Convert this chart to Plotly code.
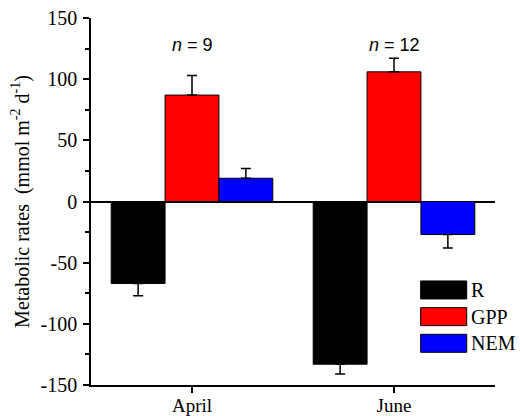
import plotly.graph_objects as go

months = ["April", "June"]
series = ["R", "GPP", "NEM"]
colors = ["#000000", "#ff0000", "#0000ff"]
values = {
    "R": [-67, -133],
    "GPP": [87, 106],
    "NEM": [19, -27],
}
errors = {
    "R": [10, 8],
    "GPP": [16, 11],
    "NEM": [8, 11],
}
y_tickvals = [-150, -100, -50, 0, 50, 100, 150]
y_ticktext = ["-150", "-100", "-50", "0", "50", "100", "150"]
n_labels = ["<i>n</i> = 9", "<i>n</i> = 12"]
n_label_y = 128

fig = go.Figure()
for s, c in zip(series, colors):
    v = values[s]
    e = errors[s]
    up = [ei if vi >= 0 else 0 for vi, ei in zip(v, e)]
    dn = [ei if vi < 0 else 0 for vi, ei in zip(v, e)]
    fig.add_trace(go.Bar(
        x=months, y=v, name=s,
        marker=dict(color=c, line=dict(color="black", width=1)),
        error_y=dict(type="data", symmetric=False, array=up, arrayminus=dn,
                     color="black", thickness=1.5, width=5),
    ))

for m, t in zip(months, n_labels):
    fig.add_annotation(x=m, y=n_label_y, text=t, showarrow=False,
                       font=dict(family="Liberation Sans, Arial", size=18, color="black"),
                       xanchor="center", yanchor="middle")

# custom legend with large swatches
for i, (s, c) in enumerate(zip(series, colors)):
    yc = 0.259 - i * 0.0727
    fig.add_shape(type="rect", xref="paper", yref="paper",
                  x0=0.816, x1=0.930, y0=yc - 0.0245, y1=yc + 0.0245,
                  fillcolor=c, line=dict(color="black", width=1))
    fig.add_annotation(xref="paper", yref="paper", x=0.936, y=yc, text=s,
                       showarrow=False, xanchor="left", yanchor="middle",
                       font=dict(family="Liberation Serif, Times New Roman", size=20, color="black"))

serif = dict(family="Liberation Serif, Times New Roman", size=20, color="black")
fig.update_layout(
    width=520, height=416,
    margin=dict(l=91, r=25, t=18, b=31),
    paper_bgcolor="white", plot_bgcolor="white",
    barmode="group", bargap=0.2, bargroupgap=0,
    showlegend=False,
    font=serif,
    xaxis=dict(range=[-0.5, 1.5], showline=True, linecolor="black", linewidth=1.5,
               ticks="outside", ticklen=6, tickwidth=1.5, tickcolor="black",
               showgrid=False, zeroline=False, automargin=False,
               tickfont=dict(family=serif["family"], size=19, color="black"),
               ticklabelstandoff=-4),
    yaxis=dict(range=[-150, 150], tickvals=y_tickvals, ticktext=y_ticktext,
               showline=True, linecolor="black", linewidth=1.5,
               ticks="outside", ticklen=6, tickwidth=1.5, tickcolor="black",
               minor=dict(dtick=25, ticks="outside", ticklen=4, tickwidth=1.5, tickcolor="black"),
               showgrid=False, zeroline=True, zerolinecolor="black", zerolinewidth=1.5,
               tickfont=serif, automargin=False, ticklabelstandoff=2,
               title=dict(text="Metabolic rates  (mmol m<sup>-2</sup> d<sup>-1</sup>)",
                          font=dict(family=serif["family"], size=20, color="black"),
                          standoff=6)),
)

fig.write_html("out.html")
